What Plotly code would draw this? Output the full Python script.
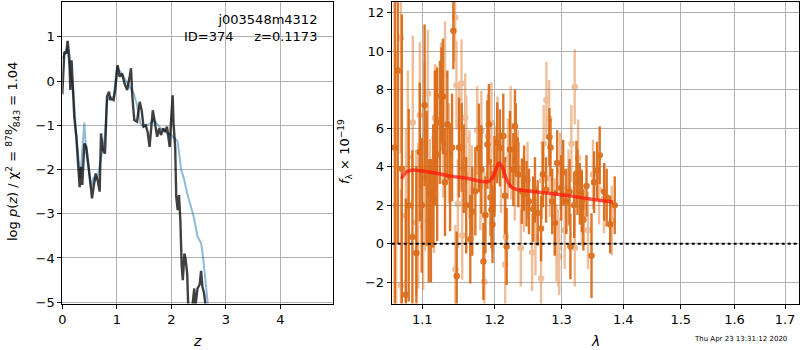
import plotly.graph_objects as go

# ---------------- left panel: log p(z) ----------------
z_fit = [0.0, 0.037, 0.073, 0.098, 0.128, 0.147, 0.17, 0.196, 0.22, 0.257, 0.30, 0.318, 0.343, 0.367,
         0.404, 0.44, 0.483, 0.514, 0.545, 0.575, 0.611, 0.648, 0.685, 0.71, 0.746, 0.783, 0.82, 0.857,
         0.88, 0.90, 0.94, 0.97, 1.015, 1.05, 1.095, 1.14, 1.19, 1.235, 1.26, 1.285, 1.32, 1.37, 1.42,
         1.455, 1.49, 1.53, 1.565, 1.60, 1.64, 1.66, 1.70, 1.74, 1.775, 1.81, 1.85, 1.885, 1.92, 1.95,
         1.97, 1.99, 2.024, 2.04, 2.07, 2.09, 2.116, 2.14, 2.165, 2.19, 2.21, 2.24, 2.26, 2.29, 2.31,
         2.35, 2.385, 2.42, 2.44, 2.48, 2.52, 2.545, 2.57, 2.60, 2.64, 2.70, 3.0]
logp_fit = [-0.3, 0.66, 0.62, 0.91, 0.55, -0.2, 0.47, -0.2, -0.81, -1.26, -2.09, -2.4, -1.94, -2.35,
            -1.41, -1.49, -1.94, -2.39, -2.65, -2.39, -2.09, -2.24, -2.5, -1.18, -1.56, -1.64, -0.35, -0.24,
            -0.43, -0.4, -0.43, -0.2, 0.36, 0.1, 0.17, -0.05, -0.2, 0.1, 0.29, -0.36, -0.88, -0.92, -0.47,
            -0.66, -1.03, -1.0, -1.15, -1.49, -0.96, -0.66, -0.96, -1.26, -1.07, -1.22, -1.07, -1.15, -1.03, -1.33,
            -1.49, -1.0, -0.32, -0.96, -1.49, -2.62, -2.92, -2.58, -3.14, -4.2, -4.5, -3.9, -4.01, -4.35, -5.1,
            -5.2, -5.1, -4.69, -5.1, -4.69, -4.6, -4.29, -4.65, -4.8, -5.2, -6.5, -12.0]

z_prior = [0.0, 0.05, 0.09, 0.11, 0.15, 0.20, 0.25, 0.30, 0.33, 0.37, 0.404, 0.44, 0.50, 0.53, 0.575,
           0.61, 0.648, 0.685, 0.71, 0.746, 0.78, 0.82, 0.88, 0.94, 1.0, 1.06, 1.12, 1.19, 1.24, 1.31,
           1.37, 1.43, 1.49, 1.55, 1.61, 1.67, 1.74, 1.80, 1.86, 1.92, 1.98, 2.04, 2.07, 2.116, 2.15,
           2.18, 2.23, 2.29, 2.35, 2.41, 2.48, 2.545, 2.58, 2.62, 2.655, 2.70, 3.0]
logp_prior = [0.5, 0.65, 0.75, 0.55, 0.2, -0.2, -1.1, -1.9, -2.2, -1.5, -0.94, -1.64, -2.17, -2.4, -2.17,
              -2.24, -2.17, -1.9, -1.7, -1.45, -1.26, -0.43, -0.36, -0.36, 0.32, 0.22, 0.1, -0.05, -0.13, -0.28,
              -0.54, -0.96, -1.03, -1.0, -0.96, -0.88, -0.96, -1.07, -1.1, -1.18, -1.2, -1.28, -1.3, -1.37, -1.71,
              -2.01, -2.2, -2.54, -2.8, -3.07, -3.52, -3.66, -3.97, -4.42, -4.95, -5.6, -9.0]

# ---------------- right panel: spectrum ----------------
lam_a = [1.0643, 1.0681, 1.0733, 1.0784, 1.0822, 1.0870, 1.0922, 1.0967, 1.0993, 1.1030, 1.1059, 1.1085,
         1.1114, 1.1144, 1.1168, 1.1198, 1.1236, 1.1256, 1.1276, 1.1304, 1.1336, 1.1373, 1.1400, 1.1418,
         1.1464, 1.1495, 1.1532, 1.1560, 1.1595, 1.1652, 1.1680, 1.1723, 1.1773, 1.1808, 1.1837, 1.1866,
         1.1894, 1.1915, 1.1938, 1.1952, 1.1967, 1.1996, 1.2035, 1.2074, 1.2123, 1.2147, 1.2172, 1.2221,
         1.2270, 1.2294, 1.2306, 1.2345, 1.2396, 1.2430, 1.2466, 1.2502, 1.2565, 1.2593, 1.2634, 1.2685,
         1.2713, 1.2762, 1.2813, 1.2830, 1.2856, 1.2897, 1.2933, 1.2996, 1.3027, 1.3075, 1.3126, 1.3140,
         1.3200, 1.3235, 1.3251, 1.3289, 1.3321, 1.3347, 1.3396, 1.3477, 1.3519, 1.3568, 1.3610, 1.3685,
         1.3725, 1.3783, 1.3858]
f_a = [5.0, 9.0, 3.9, -2.65, 2.0, 0.35, -0.48, 4.77, 2.0, 7.19, 3.4, 1.2, 1.2, 3.0, 5.5, 4.64, 6.3, 7.7,
       7.65, 3.2, 6.2, 3.45, 5.0, 11.06, -1.67, 5.0, 5.0, 3.9, 2.0, 0.24, 1.68, 2.73, 4.98, 3.86, -0.92,
       1.5, 5.15, 6.2, 2.4, 1.77, 1.0, 3.5, 5.24, 4.98, 5.6, 2.5, -0.14, 4.9, 3.85, 6.1, 5.4, 3.6, 2.73,
       3.4, 2.6, 2.2, 1.8, 2.8, 1.6, 0.79, 3.6, 2.8, 5.55, 5.0, 2.2, 1.08, 4.2, 2.9, 3.7, 2.2, 2.7, -0.14,
       2.0, 3.65, 3.2, 2.6, 2.2, 1.25, 3.0, -0.62, 3.2, 3.8, 4.6, 2.7, 2.4, 1.0, 2.0]
e_a = [10, 9, 8, 5, 5, 4.5, 4.5, 3.6, 3.5, 4.2, 3.5, 3.2, 3.2, 3.2, 3.5, 4.5, 3.2, 2.5, 3, 2.8, 2.8, 2.8, 2.8, 2.0, 2.3,
       2.6, 2.3, 2.3, 2.5, 2.3, 2.3, 2.3, 2.3, 2.3, 2.0, 2.0, 2.3, 2.1, 2, 2, 2, 2.1, 2.1, 2.0, 2.2, 2.0,
       2.0, 2.0, 1.9, 1.9, 1.9, 1.7, 1.7, 1.7, 1.7, 1.7, 1.7, 1.7, 1.7, 1.7, 1.7, 1.7, 1.5, 1.5, 1.7, 1.7,
       1.7, 1.7, 1.7, 1.7, 1.7, 1.7, 1.7, 1.7, 1.7, 1.6, 1.6, 1.6, 1.6, 2.2, 1.6, 1.5, 1.5, 1.5, 1.5,
       1.5, 1.5]

lam_b = [1.0660, 1.0720, 1.0722, 1.0787, 1.0810, 1.0875, 1.0920, 1.0945, 1.0967, 1.1012, 1.1030, 1.1034,
         1.1074, 1.1101, 1.1155, 1.1168, 1.1190, 1.1250, 1.1280, 1.1304, 1.1355, 1.1442, 1.1445, 1.1460,
         1.1480, 1.1498, 1.1530, 1.1540, 1.1581, 1.1596, 1.1640, 1.1672, 1.1750, 1.1794, 1.1808, 1.1850,
         1.1852, 1.1900, 1.1952, 1.1968, 1.2000, 1.2040, 1.2090, 1.2150, 1.2160, 1.2190, 1.2230, 1.2240,
         1.2290, 1.2335, 1.2380, 1.2426, 1.2480, 1.2550, 1.2600, 1.2685, 1.2700, 1.2725, 1.2767, 1.2807,
         1.2818, 1.2895, 1.2922, 1.2948, 1.2963, 1.2980, 1.3050, 1.3110, 1.3155, 1.3208, 1.3210, 1.3262,
         1.3320, 1.3420, 1.3500, 1.3600, 1.3680, 1.3808]
f_b = [2.0, 10.7, -2.17, 1.46, 4.5, 6.3, 1.1, 1.47, 6.67, 0.9, 5.2, 2.93, 7.8, 2.64, 2.33, 6.53, 6.45,
       7.65, 5.2, 8.75, 4.7, 11.75, -1.32, 8.23, 2.08, 6.1, 8.32, 0.43, 6.55, 5.4, 3.6, 2.81, 5.88, 3.0,
       5.85, -1.97, 1.45, 5.58, 6.29, 1.76, 4.0, 5.55, 3.7, -1.08, 0.35, 4.4, 6.1, 4.3, 3.2, 3.9, -0.22,
       2.6, 3.3, -0.45, 0.35, -1.8, 3.3, 5.2, 7.45, 6.5, 3.4, 1.4, 0.05, -0.22, -0.66, 3.77, 0.7, 2.9,
       5.2, 8.15, -0.22, 4.45, 1.9, 0.7, 3.6, 2.8, 2.35, 1.2]
e_b = [8, 6, 5, 4.5, 4.5, 4.5, 3.8, 3.8, 3.8, 3.3, 4.2, 3.3, 3.3, 2.8, 2.8, 2.8, 2.8, 2.8, 2.8, 2.8, 2.6, 2.3, 2.3, 2.3, 2.3,
       2.3, 2.3, 2.3, 2.3, 2.3, 2.3, 2.3, 2.3, 2.3, 2.1, 2.1, 2.3, 2.2, 2.1, 2.2, 2.1, 2.1, 2.1, 2.1,
       2.1, 2.1, 2.1, 2.0, 2, 2, 2, 2, 2, 2, 2, 2.1, 2, 2, 2, 2, 2, 2, 2, 2, 2, 2, 2, 2, 2, 1.95, 2,
       2, 2, 2, 1.8, 1.8, 1.8, 1.8]

lam_model = [1.073, 1.078, 1.086, 1.10, 1.12, 1.14, 1.16, 1.18, 1.19, 1.197, 1.203, 1.206, 1.211,
             1.217, 1.224, 1.232, 1.25, 1.28, 1.31, 1.34, 1.383]
f_model = [3.37, 3.7, 3.82, 3.78, 3.65, 3.5, 3.4, 3.25, 3.22, 3.45, 4.0, 4.2, 3.95, 3.35, 2.95, 2.82,
           2.74, 2.62, 2.5, 2.35, 2.17]

xticks_z = [0, 1, 2, 3, 4]
yticks_p = [-5, -4, -3, -2, -1, 0, 1]
xticks_lam = [1.1, 1.2, 1.3, 1.4, 1.5, 1.6, 1.7]
yticks_f = [-2, 0, 2, 4, 6, 8, 10, 12]

DARK = "rgb(216,100,12)"
FONT = "DejaVu Sans"

fig = go.Figure()
fig.add_trace(go.Scatter(x=z_prior, y=logp_prior, mode="lines",
                         line=dict(color="rgba(31,119,180,0.5)", width=2), xaxis="x", yaxis="y"))
fig.add_trace(go.Scatter(x=z_fit, y=logp_fit, mode="lines",
                         line=dict(color="rgba(0,0,0,0.75)", width=2.4), xaxis="x", yaxis="y"))

fig.add_trace(go.Scatter(x=lam_a, y=f_a, mode="markers", xaxis="x2", yaxis="y2",
                         marker=dict(color=DARK, size=6.5), opacity=0.88,
                         error_y=dict(type="data", array=e_a, color=DARK, thickness=2.4, width=0)))
fig.add_trace(go.Scatter(x=lam_b, y=f_b, mode="markers", xaxis="x2", yaxis="y2",
                         marker=dict(color=DARK, size=6.5), opacity=0.42,
                         error_y=dict(type="data", array=e_b, color=DARK, thickness=2.4, width=0)))
fig.add_trace(go.Scatter(x=lam_model, y=f_model, mode="lines", xaxis="x2", yaxis="y2",
                         line=dict(color="rgba(255,20,10,0.72)", width=3.5, shape="spline")))

axcommon = dict(showline=True, mirror=True, linecolor="black", linewidth=1,
                showgrid=True, gridcolor="#b0b0b0", gridwidth=1, zeroline=False,
                ticks="outside", ticklen=4, tickcolor="black", automargin=False,
                tickfont=dict(family=FONT, size=13, color="black"))

fig.update_layout(
    width=800, height=350, margin=dict(l=0, r=0, t=0, b=0, autoexpand=False),
    paper_bgcolor="white", plot_bgcolor="white", showlegend=False,
    font=dict(family=FONT, size=13, color="black"),
    xaxis=dict(domain=[62.3/800, 333.3/800], range=[0, 4.97], tickvals=xticks_z, anchor="y", **axcommon),
    yaxis=dict(domain=[(350-303.5)/350, (350-1.5)/350], range=[-5.03, 1.80], tickvals=yticks_p,
               anchor="x", **axcommon),
    xaxis2=dict(domain=[391.7/800, 799.3/800], type="log", range=[0.02544, 0.2379],
                tickvals=xticks_lam, ticktext=[str(v) for v in xticks_lam], anchor="y2", **axcommon),
    yaxis2=dict(domain=[(350-303.5)/350, (350-1.5)/350], range=[-3.10, 12.58], tickvals=yticks_f,
                anchor="x2", **axcommon),
)

fig.add_shape(type="line", xref="x2 domain", yref="y2", x0=0, x1=1, y0=0, y1=0,
              line=dict(color="black", width=2, dash="dot"))

ann = []
ann.append(dict(text="j003548m4312<br>ID=374     z=0.1173", xref="paper", yref="paper",
                x=319/800, y=1-10/350, xanchor="right", yanchor="top", align="right",
                showarrow=False, font=dict(family=FONT, size=13)))
ann.append(dict(text="log <i>p</i>(<i>z</i>) / χ<sup>2</sup> = <sup>878</sup>⁄<sub>843</sub> = 1.04",
                xref="paper", yref="paper", x=13/800, y=1-152/350, textangle=-90,
                xanchor="center", yanchor="middle", showarrow=False, font=dict(family=FONT, size=13)))
ann.append(dict(text="<i>f</i><sub>λ</sub> × 10<sup>−19</sup>", xref="paper", yref="paper",
                x=345/800, y=1-152/350, textangle=-90, xanchor="center", yanchor="middle",
                showarrow=False, font=dict(family=FONT, size=13)))
ann.append(dict(text="<i>z</i>", xref="paper", yref="paper", x=197/800, y=1-341/350,
                xanchor="center", yanchor="middle", showarrow=False, font=dict(family=FONT, size=14)))
ann.append(dict(text="<i>λ</i>", xref="paper", yref="paper", x=595/800, y=1-341/350,
                xanchor="center", yanchor="middle", showarrow=False, font=dict(family=FONT, size=14)))
ann.append(dict(text="Thu Apr 23 13:31:12 2020", xref="paper", yref="paper", x=789/800, y=1-339/350,
                xanchor="right", yanchor="middle", showarrow=False, font=dict(family=FONT, size=7)))
fig.update_layout(annotations=ann)

fig.write_html("out.html", config={"displayModeBar": False},
               post_script="document.body.style.margin='0px';document.body.style.overflow='hidden';")
